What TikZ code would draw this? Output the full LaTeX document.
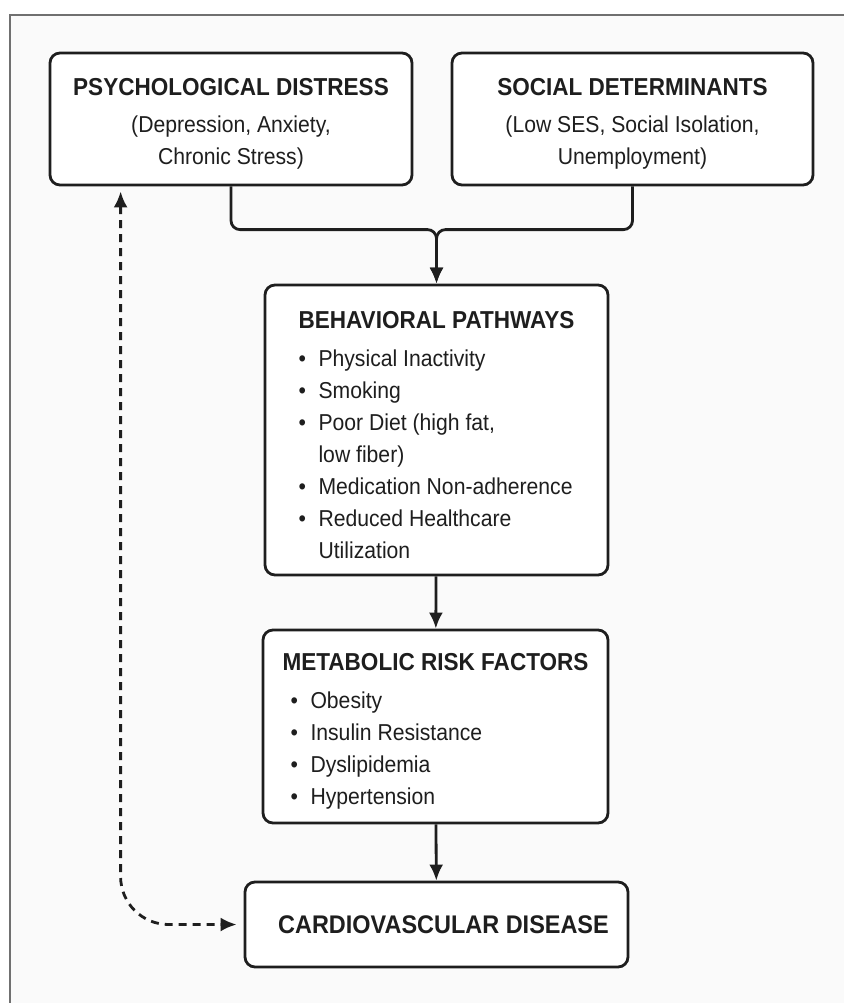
\documentclass[tikz,border=0pt]{standalone}
\usepackage{fontspec}
\setmainfont{Liberation Sans}[FakeStretch=0.92]
\usetikzlibrary{arrows.meta,positioning,calc}
\definecolor{frameGray}{RGB}{112,112,112}
\definecolor{boxInk}{RGB}{30,30,30}
\definecolor{paperTone}{RGB}{250,250,250}
\newcommand{\boxtitle}[1]{{\fontsize{24.5}{32}\selectfont\bfseries\rule{0pt}{27pt}#1}}
\newcommand{\bul}{\makebox[20pt][l]{\textbullet}}
\newcommand{\contd}{\hspace*{20pt}}
\newcommand{\mbul}{\hspace*{8pt}\bul}

\begin{document}
\begin{tikzpicture}[x=1pt, y=-1pt,
    >={Latex[length=16pt,width=14pt]},
    box/.style={draw=boxInk, line width=2.8pt, rounded corners=10pt, fill=white,
      text=boxInk, inner sep=0pt, font=\fontsize{23}{32}\selectfont},
    flow/.style={draw=boxInk, line width=2.8pt, ->}]
  \fill[white] (0,0) rectangle (844,1003);
  \useasboundingbox (0,0) rectangle (844,1003);
  \fill[paperTone] (10,15) rectangle (844,1003);
  \draw[frameGray, line width=2.5pt] (10,1003) -- (10,15) -- (844,15);

  % top row
  \node[box, minimum width=362pt, minimum height=132pt, align=center] (psych) at (231,119)
    {\boxtitle{PSYCHOLOGICAL DISTRESS}\\[5pt](Depression, Anxiety,\\Chronic Stress)};
  \node[box, minimum width=361pt, minimum height=132pt, align=center] (social) at (632.5,119)
    {\boxtitle{SOCIAL DETERMINANTS}\\[5pt](Low SES, Social Isolation,\\Unemployment)};

  % middle column
  \node[box, minimum width=343pt, minimum height=290pt, align=left] (beh) at (436.5,430)
    {\boxtitle{BEHAVIORAL PATHWAYS}\\[6pt]
     \bul Physical Inactivity\\
     \bul Smoking\\
     \bul Poor Diet (high fat,\\
     \contd low fiber)\\
     \bul Medication Non-adherence\\
     \bul Reduced Healthcare\\
     \contd Utilization};
  \node[box, minimum width=345pt, minimum height=193pt, align=left] (met) at (435.5,726.5)
    {\boxtitle{METABOLIC RISK FACTORS}\\[6pt]
     \mbul Obesity\\
     \mbul Insulin Resistance\\
     \mbul Dyslipidemia\\
     \mbul Hypertension};
  \node[box, minimum width=383pt, minimum height=85pt, font=\fontsize{25.5}{30}\selectfont\bfseries] (cvd) at (436.5,924.5)
    {\hspace*{14pt}CARDIOVASCULAR DISEASE};

  % connectors
  \coordinate (join) at ([yshift=54pt]beh.north);
  \draw[flow, rounded corners=9pt] (psych.south) |- (join) -- (beh.north);
  \draw[flow, rounded corners=9pt] (social.south) |- (join) -- (beh.north);
  \draw[flow] (beh) -- (met);
  \draw[flow] (met) -- (cvd);
  \draw[flow, <->, dash pattern=on 8pt off 6pt, rounded corners=48pt, shorten <=5pt, shorten >=7pt]
    ([xshift=72pt]psych.south west) |- (cvd.west);
\end{tikzpicture}
\end{document}
